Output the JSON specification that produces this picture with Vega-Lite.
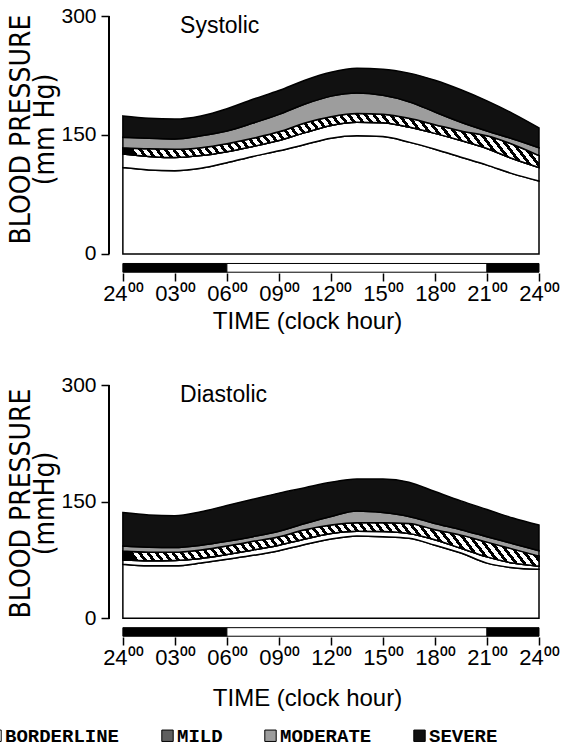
{
  "$schema": "https://vega.github.io/schema/vega-lite/v6.json",
  "background": "white",
  "padding": {"left": -14, "top": 5, "right": 0, "bottom": 0},
  "config": {
    "view": {"stroke": null},
    "font": "Liberation Sans",
    "axis": {"grid": false, "domain": false, "tickColor": "black", "labelColor": "black", "titleColor": "black", "titleFontWeight": "normal", "tickWidth": 1.5}
  },
  "datasets": {
    "systolic": [
      {"hour": 0, "normal": 109, "borderline": 126, "mild": 134, "moderate": 147, "severe": 174},
      {"hour": 1.5, "normal": 106, "borderline": 123, "mild": 132.5, "moderate": 146, "severe": 171},
      {"hour": 3, "normal": 105, "borderline": 121.5, "mild": 132, "moderate": 145, "severe": 170},
      {"hour": 4.5, "normal": 108, "borderline": 124, "mild": 134, "moderate": 149, "severe": 174},
      {"hour": 6, "normal": 115, "borderline": 129, "mild": 139, "moderate": 155, "severe": 183},
      {"hour": 7.5, "normal": 123, "borderline": 135.5, "mild": 146, "moderate": 165, "severe": 195},
      {"hour": 9, "normal": 130, "borderline": 143, "mild": 154, "moderate": 176, "severe": 206},
      {"hour": 10.5, "normal": 138, "borderline": 153, "mild": 165, "moderate": 189, "severe": 219},
      {"hour": 12, "normal": 146, "borderline": 162, "mild": 173, "moderate": 199, "severe": 229},
      {"hour": 13.5, "normal": 149, "borderline": 166, "mild": 177, "moderate": 203, "severe": 234},
      {"hour": 15, "normal": 148, "borderline": 165.5, "mild": 176, "moderate": 200, "severe": 233},
      {"hour": 16.5, "normal": 141, "borderline": 160, "mild": 171, "moderate": 192, "severe": 228},
      {"hour": 18, "normal": 132, "borderline": 152, "mild": 163, "moderate": 179, "severe": 219},
      {"hour": 19.5, "normal": 122, "borderline": 143, "mild": 155, "moderate": 166, "severe": 207},
      {"hour": 21, "normal": 112, "borderline": 133, "mild": 149, "moderate": 155, "severe": 193},
      {"hour": 22.5, "normal": 101, "borderline": 120, "mild": 138, "moderate": 145, "severe": 177},
      {"hour": 24, "normal": 92, "borderline": 109, "mild": 124, "moderate": 134, "severe": 159}
    ],
    "diastolic": [
      {"hour": 0, "normal": 69.5, "borderline": 75, "mild": 86.5, "moderate": 93, "severe": 136},
      {"hour": 1.5, "normal": 67.5, "borderline": 74, "mild": 85, "moderate": 91.5, "severe": 133},
      {"hour": 3, "normal": 67.5, "borderline": 74.5, "mild": 85, "moderate": 91, "severe": 132},
      {"hour": 4.5, "normal": 71, "borderline": 77, "mild": 88, "moderate": 94, "severe": 137},
      {"hour": 6, "normal": 76, "borderline": 82, "mild": 93, "moderate": 99, "severe": 145},
      {"hour": 7.5, "normal": 81, "borderline": 88, "mild": 99, "moderate": 105, "severe": 153},
      {"hour": 9, "normal": 87, "borderline": 94, "mild": 105, "moderate": 112, "severe": 161},
      {"hour": 10.5, "normal": 95, "borderline": 102, "mild": 114, "moderate": 122, "severe": 168},
      {"hour": 12, "normal": 102, "borderline": 109, "mild": 120, "moderate": 131, "severe": 175},
      {"hour": 13.5, "normal": 106, "borderline": 112, "mild": 123, "moderate": 138, "severe": 179},
      {"hour": 15, "normal": 105, "borderline": 111.5, "mild": 123, "moderate": 136, "severe": 179},
      {"hour": 16.5, "normal": 103, "borderline": 109, "mild": 122, "moderate": 131, "severe": 175},
      {"hour": 18, "normal": 94, "borderline": 101, "mild": 114, "moderate": 122, "severe": 163},
      {"hour": 19.5, "normal": 84, "borderline": 90, "mild": 107, "moderate": 114, "severe": 151},
      {"hour": 21, "normal": 71, "borderline": 79, "mild": 98, "moderate": 105, "severe": 140},
      {"hour": 22.5, "normal": 65, "borderline": 71, "mild": 89, "moderate": 96, "severe": 129},
      {"hour": 24, "normal": 63, "borderline": 67, "mild": 80, "moderate": 87, "severe": 120}
    ],
    "periods": [
      {"start": 0, "end": 6, "period": "night"},
      {"start": 6, "end": 21, "period": "day"},
      {"start": 21, "end": 24, "period": "night"}
    ]
  },
  "spacing": 41,
  "resolve": {"scale": {"color": "shared"}},
  "vconcat": [
    {
      "width": 430,
      "height": 257,
      "data": {"name": "systolic"},
      "encoding": {
        "x": {"field": "hour", "type": "quantitative", "scale": {"domain": [-0.8, 24], "nice": false, "zero": false},
          "axis": {"values": [0, 3, 6, 9, 12, 15, 18, 21, 24], "labelExpr": "(datum.value == 0 || datum.value == 24 ? '24' : (datum.value < 10 ? '0' + datum.value : '' + datum.value)) + '⁰⁰'", "labelFlush": false, "labelOverlap": false, "tickSize": 8, "labelFontSize": 22, "labelPadding": 2, "title": "TIME (clock hour)", "titleFontSize": 24, "titlePadding": 5, "titleX": 198}}
      },
      "layer": [
        {
          "mark": {"type": "area", "interpolate": "monotone", "fill": "white", "stroke": "black", "strokeWidth": 1.5},
          "encoding": {
            "y": {"field": "normal", "type": "quantitative", "scale": {"domain": [-24, 300], "nice": false, "zero": false},
              "axis": {"values": [0, 150, 300], "tickSize": 8, "labelFontSize": 21, "labelPadding": 5, "title": ["BLOOD PRESSURE", "(mm Hg)"], "titleFont": "'Liberation Sans Narrow', 'DejaVu Sans Condensed', 'Liberation Sans'", "titleFontSize": 28, "titleLineHeight": 24, "titlePadding": 1, "titleY": 113}},
            "y2": {"datum": 0}
          }
        },
        {
          "mark": {"type": "area", "interpolate": "monotone", "stroke": "black", "strokeWidth": 1.5, "opacity": 1},
          "encoding": {"y": {"field": "normal", "type": "quantitative"}, "y2": {"field": "borderline"},
            "color": {"datum": "BORDERLINE", "type": "nominal", "scale": {"domain": ["BORDERLINE", "MILD", "MODERATE", "SEVERE"], "range": ["#ffffff", "#5f5f5f", "#9d9d9d", "#111111"]},
              "legend": {"title": null, "orient": "none", "legendX": -123, "legendY": 710, "direction": "horizontal", "columns": 4, "symbolType": "square", "symbolSize": 130, "symbolStrokeColor": "black", "symbolStrokeWidth": 1, "symbolOpacity": 1, "labelFont": "Liberation Mono", "labelFontSize": 19, "labelFontWeight": "bold", "labelColor": "black", "labelOffset": 0, "columnPadding": 38}}}
        },
        {
          "mark": {"type": "area", "interpolate": "monotone", "stroke": "black", "strokeWidth": 1.5, "opacity": 1},
          "encoding": {"y": {"field": "borderline", "type": "quantitative"}, "y2": {"field": "mild"}, "color": {"datum": "MILD", "type": "nominal"}}
        },
        {
          "mark": {"type": "area", "interpolate": "monotone", "stroke": "black", "strokeWidth": 1.5, "opacity": 1,
            "fill": {"gradient": "linear", "x1": 0, "y1": 0.5, "x2": 1, "y2": 0.4, "stops": [
        {"offset":0,"color":"#000"},{"offset":0.009,"color":"#000"},{"offset":0.009,"color":"#fff"},{"offset":0.02,"color":"#fff"},
        {"offset":0.02,"color":"#000"},{"offset":0.029,"color":"#000"},{"offset":0.029,"color":"#fff"},{"offset":0.04,"color":"#fff"},
        {"offset":0.04,"color":"#000"},{"offset":0.049,"color":"#000"},{"offset":0.049,"color":"#fff"},{"offset":0.06,"color":"#fff"},
        {"offset":0.06,"color":"#000"},{"offset":0.069,"color":"#000"},{"offset":0.069,"color":"#fff"},{"offset":0.08,"color":"#fff"},
        {"offset":0.08,"color":"#000"},{"offset":0.089,"color":"#000"},{"offset":0.089,"color":"#fff"},{"offset":0.1,"color":"#fff"},
        {"offset":0.1,"color":"#000"},{"offset":0.109,"color":"#000"},{"offset":0.109,"color":"#fff"},{"offset":0.12,"color":"#fff"},
        {"offset":0.12,"color":"#000"},{"offset":0.129,"color":"#000"},{"offset":0.129,"color":"#fff"},{"offset":0.14,"color":"#fff"},
        {"offset":0.14,"color":"#000"},{"offset":0.149,"color":"#000"},{"offset":0.149,"color":"#fff"},{"offset":0.16,"color":"#fff"},
        {"offset":0.16,"color":"#000"},{"offset":0.169,"color":"#000"},{"offset":0.169,"color":"#fff"},{"offset":0.18,"color":"#fff"},
        {"offset":0.18,"color":"#000"},{"offset":0.189,"color":"#000"},{"offset":0.189,"color":"#fff"},{"offset":0.2,"color":"#fff"},
        {"offset":0.2,"color":"#000"},{"offset":0.209,"color":"#000"},{"offset":0.209,"color":"#fff"},{"offset":0.22,"color":"#fff"},
        {"offset":0.22,"color":"#000"},{"offset":0.229,"color":"#000"},{"offset":0.229,"color":"#fff"},{"offset":0.24,"color":"#fff"},
        {"offset":0.24,"color":"#000"},{"offset":0.249,"color":"#000"},{"offset":0.249,"color":"#fff"},{"offset":0.26,"color":"#fff"},
        {"offset":0.26,"color":"#000"},{"offset":0.269,"color":"#000"},{"offset":0.269,"color":"#fff"},{"offset":0.28,"color":"#fff"},
        {"offset":0.28,"color":"#000"},{"offset":0.289,"color":"#000"},{"offset":0.289,"color":"#fff"},{"offset":0.3,"color":"#fff"},
        {"offset":0.3,"color":"#000"},{"offset":0.309,"color":"#000"},{"offset":0.309,"color":"#fff"},{"offset":0.32,"color":"#fff"},
        {"offset":0.32,"color":"#000"},{"offset":0.329,"color":"#000"},{"offset":0.329,"color":"#fff"},{"offset":0.34,"color":"#fff"},
        {"offset":0.34,"color":"#000"},{"offset":0.349,"color":"#000"},{"offset":0.349,"color":"#fff"},{"offset":0.36,"color":"#fff"},
        {"offset":0.36,"color":"#000"},{"offset":0.369,"color":"#000"},{"offset":0.369,"color":"#fff"},{"offset":0.38,"color":"#fff"},
        {"offset":0.38,"color":"#000"},{"offset":0.389,"color":"#000"},{"offset":0.389,"color":"#fff"},{"offset":0.4,"color":"#fff"},
        {"offset":0.4,"color":"#000"},{"offset":0.409,"color":"#000"},{"offset":0.409,"color":"#fff"},{"offset":0.42,"color":"#fff"},
        {"offset":0.42,"color":"#000"},{"offset":0.429,"color":"#000"},{"offset":0.429,"color":"#fff"},{"offset":0.44,"color":"#fff"},
        {"offset":0.44,"color":"#000"},{"offset":0.449,"color":"#000"},{"offset":0.449,"color":"#fff"},{"offset":0.46,"color":"#fff"},
        {"offset":0.46,"color":"#000"},{"offset":0.469,"color":"#000"},{"offset":0.469,"color":"#fff"},{"offset":0.48,"color":"#fff"},
        {"offset":0.48,"color":"#000"},{"offset":0.489,"color":"#000"},{"offset":0.489,"color":"#fff"},{"offset":0.5,"color":"#fff"},
        {"offset":0.5,"color":"#000"},{"offset":0.509,"color":"#000"},{"offset":0.509,"color":"#fff"},{"offset":0.52,"color":"#fff"},
        {"offset":0.52,"color":"#000"},{"offset":0.529,"color":"#000"},{"offset":0.529,"color":"#fff"},{"offset":0.54,"color":"#fff"},
        {"offset":0.54,"color":"#000"},{"offset":0.549,"color":"#000"},{"offset":0.549,"color":"#fff"},{"offset":0.56,"color":"#fff"},
        {"offset":0.56,"color":"#000"},{"offset":0.569,"color":"#000"},{"offset":0.569,"color":"#fff"},{"offset":0.58,"color":"#fff"},
        {"offset":0.58,"color":"#000"},{"offset":0.589,"color":"#000"},{"offset":0.589,"color":"#fff"},{"offset":0.6,"color":"#fff"},
        {"offset":0.6,"color":"#000"},{"offset":0.609,"color":"#000"},{"offset":0.609,"color":"#fff"},{"offset":0.62,"color":"#fff"},
        {"offset":0.62,"color":"#000"},{"offset":0.629,"color":"#000"},{"offset":0.629,"color":"#fff"},{"offset":0.64,"color":"#fff"},
        {"offset":0.64,"color":"#000"},{"offset":0.649,"color":"#000"},{"offset":0.649,"color":"#fff"},{"offset":0.66,"color":"#fff"},
        {"offset":0.66,"color":"#000"},{"offset":0.669,"color":"#000"},{"offset":0.669,"color":"#fff"},{"offset":0.68,"color":"#fff"},
        {"offset":0.68,"color":"#000"},{"offset":0.689,"color":"#000"},{"offset":0.689,"color":"#fff"},{"offset":0.7,"color":"#fff"},
        {"offset":0.7,"color":"#000"},{"offset":0.709,"color":"#000"},{"offset":0.709,"color":"#fff"},{"offset":0.72,"color":"#fff"},
        {"offset":0.72,"color":"#000"},{"offset":0.729,"color":"#000"},{"offset":0.729,"color":"#fff"},{"offset":0.74,"color":"#fff"},
        {"offset":0.74,"color":"#000"},{"offset":0.749,"color":"#000"},{"offset":0.749,"color":"#fff"},{"offset":0.76,"color":"#fff"},
        {"offset":0.76,"color":"#000"},{"offset":0.769,"color":"#000"},{"offset":0.769,"color":"#fff"},{"offset":0.78,"color":"#fff"},
        {"offset":0.78,"color":"#000"},{"offset":0.789,"color":"#000"},{"offset":0.789,"color":"#fff"},{"offset":0.8,"color":"#fff"},
        {"offset":0.8,"color":"#000"},{"offset":0.809,"color":"#000"},{"offset":0.809,"color":"#fff"},{"offset":0.82,"color":"#fff"},
        {"offset":0.82,"color":"#000"},{"offset":0.829,"color":"#000"},{"offset":0.829,"color":"#fff"},{"offset":0.84,"color":"#fff"},
        {"offset":0.84,"color":"#000"},{"offset":0.849,"color":"#000"},{"offset":0.849,"color":"#fff"},{"offset":0.86,"color":"#fff"},
        {"offset":0.86,"color":"#000"},{"offset":0.869,"color":"#000"},{"offset":0.869,"color":"#fff"},{"offset":0.88,"color":"#fff"},
        {"offset":0.88,"color":"#000"},{"offset":0.889,"color":"#000"},{"offset":0.889,"color":"#fff"},{"offset":0.9,"color":"#fff"},
        {"offset":0.9,"color":"#000"},{"offset":0.909,"color":"#000"},{"offset":0.909,"color":"#fff"},{"offset":0.92,"color":"#fff"},
        {"offset":0.92,"color":"#000"},{"offset":0.929,"color":"#000"},{"offset":0.929,"color":"#fff"},{"offset":0.94,"color":"#fff"},
        {"offset":0.94,"color":"#000"},{"offset":0.949,"color":"#000"},{"offset":0.949,"color":"#fff"},{"offset":0.96,"color":"#fff"},
        {"offset":0.96,"color":"#000"},{"offset":0.969,"color":"#000"},{"offset":0.969,"color":"#fff"},{"offset":0.98,"color":"#fff"},
        {"offset":0.98,"color":"#000"},{"offset":0.989,"color":"#000"},{"offset":0.989,"color":"#fff"},{"offset":1,"color":"#fff"}
            ]}},
          "encoding": {"y": {"field": "borderline", "type": "quantitative"}, "y2": {"field": "mild"}}
        },
        {
          "mark": {"type": "area", "interpolate": "monotone", "stroke": "black", "strokeWidth": 1.5, "opacity": 1},
          "encoding": {"y": {"field": "mild", "type": "quantitative"}, "y2": {"field": "moderate"}, "color": {"datum": "MODERATE", "type": "nominal"}}
        },
        {
          "mark": {"type": "area", "interpolate": "monotone", "stroke": "black", "strokeWidth": 1.5, "opacity": 1},
          "encoding": {"y": {"field": "moderate", "type": "quantitative"}, "y2": {"field": "severe"}, "color": {"datum": "SEVERE", "type": "nominal"}}
        },
        {
          "mark": {"type": "rule", "color": "black", "strokeWidth": 1.5},
          "encoding": {"x": {"datum": -0.8}, "y": {"datum": 0}, "y2": {"datum": 300}}
        },
        {
          "data": {"name": "periods"},
          "mark": {"type": "rect", "stroke": "black", "strokeWidth": 1},
          "encoding": {"x": {"field": "start", "type": "quantitative"}, "x2": {"field": "end"}, "y": {"datum": -12}, "y2": {"datum": -23},
            "fill": {"field": "period", "type": "nominal", "scale": {"domain": ["night", "day"], "range": ["black", "white"]}, "legend": null}}
        },
        {
          "transform": [{"filter": "datum.hour == 0"}],
          "mark": {"type": "text", "align": "left", "baseline": "middle", "fontSize": 23, "fill": "black"},
          "encoding": {"x": {"datum": 3.3}, "y": {"datum": 287}, "text": {"value": "Systolic"}}
        }
      ]
    },
    {
      "width": 430,
      "height": 252,
      "data": {"name": "diastolic"},
      "encoding": {
        "x": {"field": "hour", "type": "quantitative", "scale": {"domain": [-0.8, 24], "nice": false, "zero": false},
          "axis": {"values": [0, 3, 6, 9, 12, 15, 18, 21, 24], "labelExpr": "(datum.value == 0 || datum.value == 24 ? '24' : (datum.value < 10 ? '0' + datum.value : '' + datum.value)) + '⁰⁰'", "labelFlush": false, "labelOverlap": false, "tickSize": 8, "labelFontSize": 22, "labelPadding": 2, "title": "TIME (clock hour)", "titleFontSize": 24, "titlePadding": 18, "titleX": 198}}
      },
      "layer": [
        {
          "mark": {"type": "area", "interpolate": "monotone", "fill": "white", "stroke": "black", "strokeWidth": 1.5},
          "encoding": {
            "y": {"field": "normal", "type": "quantitative", "scale": {"domain": [-24, 300], "nice": false, "zero": false},
              "axis": {"values": [0, 150, 300], "tickSize": 8, "labelFontSize": 21, "labelPadding": 5, "title": ["BLOOD PRESSURE", "(mmHg)"], "titleFont": "'Liberation Sans Narrow', 'DejaVu Sans Condensed', 'Liberation Sans'", "titleFontSize": 28, "titleLineHeight": 24, "titlePadding": 1, "titleY": 118}},
            "y2": {"datum": 0}
          }
        },
        {
          "mark": {"type": "area", "interpolate": "monotone", "stroke": "black", "strokeWidth": 1.5, "opacity": 1},
          "encoding": {"y": {"field": "normal", "type": "quantitative"}, "y2": {"field": "borderline"}, "color": {"datum": "BORDERLINE", "type": "nominal"}}
        },
        {
          "mark": {"type": "area", "interpolate": "monotone", "stroke": "black", "strokeWidth": 1.5, "opacity": 1},
          "encoding": {"y": {"field": "borderline", "type": "quantitative"}, "y2": {"field": "mild"}, "color": {"datum": "MILD", "type": "nominal"}}
        },
        {
          "mark": {"type": "area", "interpolate": "monotone", "stroke": "black", "strokeWidth": 1.5, "opacity": 1,
            "fill": {"gradient": "linear", "x1": 0, "y1": 0.5, "x2": 1, "y2": 0.42, "stops": [
        {"offset":0,"color":"#000"},{"offset":0.009,"color":"#000"},{"offset":0.009,"color":"#fff"},{"offset":0.02,"color":"#fff"},
        {"offset":0.02,"color":"#000"},{"offset":0.029,"color":"#000"},{"offset":0.029,"color":"#fff"},{"offset":0.04,"color":"#fff"},
        {"offset":0.04,"color":"#000"},{"offset":0.049,"color":"#000"},{"offset":0.049,"color":"#fff"},{"offset":0.06,"color":"#fff"},
        {"offset":0.06,"color":"#000"},{"offset":0.069,"color":"#000"},{"offset":0.069,"color":"#fff"},{"offset":0.08,"color":"#fff"},
        {"offset":0.08,"color":"#000"},{"offset":0.089,"color":"#000"},{"offset":0.089,"color":"#fff"},{"offset":0.1,"color":"#fff"},
        {"offset":0.1,"color":"#000"},{"offset":0.109,"color":"#000"},{"offset":0.109,"color":"#fff"},{"offset":0.12,"color":"#fff"},
        {"offset":0.12,"color":"#000"},{"offset":0.129,"color":"#000"},{"offset":0.129,"color":"#fff"},{"offset":0.14,"color":"#fff"},
        {"offset":0.14,"color":"#000"},{"offset":0.149,"color":"#000"},{"offset":0.149,"color":"#fff"},{"offset":0.16,"color":"#fff"},
        {"offset":0.16,"color":"#000"},{"offset":0.169,"color":"#000"},{"offset":0.169,"color":"#fff"},{"offset":0.18,"color":"#fff"},
        {"offset":0.18,"color":"#000"},{"offset":0.189,"color":"#000"},{"offset":0.189,"color":"#fff"},{"offset":0.2,"color":"#fff"},
        {"offset":0.2,"color":"#000"},{"offset":0.209,"color":"#000"},{"offset":0.209,"color":"#fff"},{"offset":0.22,"color":"#fff"},
        {"offset":0.22,"color":"#000"},{"offset":0.229,"color":"#000"},{"offset":0.229,"color":"#fff"},{"offset":0.24,"color":"#fff"},
        {"offset":0.24,"color":"#000"},{"offset":0.249,"color":"#000"},{"offset":0.249,"color":"#fff"},{"offset":0.26,"color":"#fff"},
        {"offset":0.26,"color":"#000"},{"offset":0.269,"color":"#000"},{"offset":0.269,"color":"#fff"},{"offset":0.28,"color":"#fff"},
        {"offset":0.28,"color":"#000"},{"offset":0.289,"color":"#000"},{"offset":0.289,"color":"#fff"},{"offset":0.3,"color":"#fff"},
        {"offset":0.3,"color":"#000"},{"offset":0.309,"color":"#000"},{"offset":0.309,"color":"#fff"},{"offset":0.32,"color":"#fff"},
        {"offset":0.32,"color":"#000"},{"offset":0.329,"color":"#000"},{"offset":0.329,"color":"#fff"},{"offset":0.34,"color":"#fff"},
        {"offset":0.34,"color":"#000"},{"offset":0.349,"color":"#000"},{"offset":0.349,"color":"#fff"},{"offset":0.36,"color":"#fff"},
        {"offset":0.36,"color":"#000"},{"offset":0.369,"color":"#000"},{"offset":0.369,"color":"#fff"},{"offset":0.38,"color":"#fff"},
        {"offset":0.38,"color":"#000"},{"offset":0.389,"color":"#000"},{"offset":0.389,"color":"#fff"},{"offset":0.4,"color":"#fff"},
        {"offset":0.4,"color":"#000"},{"offset":0.409,"color":"#000"},{"offset":0.409,"color":"#fff"},{"offset":0.42,"color":"#fff"},
        {"offset":0.42,"color":"#000"},{"offset":0.429,"color":"#000"},{"offset":0.429,"color":"#fff"},{"offset":0.44,"color":"#fff"},
        {"offset":0.44,"color":"#000"},{"offset":0.449,"color":"#000"},{"offset":0.449,"color":"#fff"},{"offset":0.46,"color":"#fff"},
        {"offset":0.46,"color":"#000"},{"offset":0.469,"color":"#000"},{"offset":0.469,"color":"#fff"},{"offset":0.48,"color":"#fff"},
        {"offset":0.48,"color":"#000"},{"offset":0.489,"color":"#000"},{"offset":0.489,"color":"#fff"},{"offset":0.5,"color":"#fff"},
        {"offset":0.5,"color":"#000"},{"offset":0.509,"color":"#000"},{"offset":0.509,"color":"#fff"},{"offset":0.52,"color":"#fff"},
        {"offset":0.52,"color":"#000"},{"offset":0.529,"color":"#000"},{"offset":0.529,"color":"#fff"},{"offset":0.54,"color":"#fff"},
        {"offset":0.54,"color":"#000"},{"offset":0.549,"color":"#000"},{"offset":0.549,"color":"#fff"},{"offset":0.56,"color":"#fff"},
        {"offset":0.56,"color":"#000"},{"offset":0.569,"color":"#000"},{"offset":0.569,"color":"#fff"},{"offset":0.58,"color":"#fff"},
        {"offset":0.58,"color":"#000"},{"offset":0.589,"color":"#000"},{"offset":0.589,"color":"#fff"},{"offset":0.6,"color":"#fff"},
        {"offset":0.6,"color":"#000"},{"offset":0.609,"color":"#000"},{"offset":0.609,"color":"#fff"},{"offset":0.62,"color":"#fff"},
        {"offset":0.62,"color":"#000"},{"offset":0.629,"color":"#000"},{"offset":0.629,"color":"#fff"},{"offset":0.64,"color":"#fff"},
        {"offset":0.64,"color":"#000"},{"offset":0.649,"color":"#000"},{"offset":0.649,"color":"#fff"},{"offset":0.66,"color":"#fff"},
        {"offset":0.66,"color":"#000"},{"offset":0.669,"color":"#000"},{"offset":0.669,"color":"#fff"},{"offset":0.68,"color":"#fff"},
        {"offset":0.68,"color":"#000"},{"offset":0.689,"color":"#000"},{"offset":0.689,"color":"#fff"},{"offset":0.7,"color":"#fff"},
        {"offset":0.7,"color":"#000"},{"offset":0.709,"color":"#000"},{"offset":0.709,"color":"#fff"},{"offset":0.72,"color":"#fff"},
        {"offset":0.72,"color":"#000"},{"offset":0.729,"color":"#000"},{"offset":0.729,"color":"#fff"},{"offset":0.74,"color":"#fff"},
        {"offset":0.74,"color":"#000"},{"offset":0.749,"color":"#000"},{"offset":0.749,"color":"#fff"},{"offset":0.76,"color":"#fff"},
        {"offset":0.76,"color":"#000"},{"offset":0.769,"color":"#000"},{"offset":0.769,"color":"#fff"},{"offset":0.78,"color":"#fff"},
        {"offset":0.78,"color":"#000"},{"offset":0.789,"color":"#000"},{"offset":0.789,"color":"#fff"},{"offset":0.8,"color":"#fff"},
        {"offset":0.8,"color":"#000"},{"offset":0.809,"color":"#000"},{"offset":0.809,"color":"#fff"},{"offset":0.82,"color":"#fff"},
        {"offset":0.82,"color":"#000"},{"offset":0.829,"color":"#000"},{"offset":0.829,"color":"#fff"},{"offset":0.84,"color":"#fff"},
        {"offset":0.84,"color":"#000"},{"offset":0.849,"color":"#000"},{"offset":0.849,"color":"#fff"},{"offset":0.86,"color":"#fff"},
        {"offset":0.86,"color":"#000"},{"offset":0.869,"color":"#000"},{"offset":0.869,"color":"#fff"},{"offset":0.88,"color":"#fff"},
        {"offset":0.88,"color":"#000"},{"offset":0.889,"color":"#000"},{"offset":0.889,"color":"#fff"},{"offset":0.9,"color":"#fff"},
        {"offset":0.9,"color":"#000"},{"offset":0.909,"color":"#000"},{"offset":0.909,"color":"#fff"},{"offset":0.92,"color":"#fff"},
        {"offset":0.92,"color":"#000"},{"offset":0.929,"color":"#000"},{"offset":0.929,"color":"#fff"},{"offset":0.94,"color":"#fff"},
        {"offset":0.94,"color":"#000"},{"offset":0.949,"color":"#000"},{"offset":0.949,"color":"#fff"},{"offset":0.96,"color":"#fff"},
        {"offset":0.96,"color":"#000"},{"offset":0.969,"color":"#000"},{"offset":0.969,"color":"#fff"},{"offset":0.98,"color":"#fff"},
        {"offset":0.98,"color":"#000"},{"offset":0.989,"color":"#000"},{"offset":0.989,"color":"#fff"},{"offset":1,"color":"#fff"}
            ]}},
          "encoding": {"y": {"field": "borderline", "type": "quantitative"}, "y2": {"field": "mild"}}
        },
        {
          "mark": {"type": "area", "interpolate": "monotone", "stroke": "black", "strokeWidth": 1.5, "opacity": 1},
          "encoding": {"y": {"field": "mild", "type": "quantitative"}, "y2": {"field": "moderate"}, "color": {"datum": "MODERATE", "type": "nominal"}}
        },
        {
          "mark": {"type": "area", "interpolate": "monotone", "stroke": "black", "strokeWidth": 1.5, "opacity": 1},
          "encoding": {"y": {"field": "moderate", "type": "quantitative"}, "y2": {"field": "severe"}, "color": {"datum": "SEVERE", "type": "nominal"}}
        },
        {
          "mark": {"type": "rule", "color": "black", "strokeWidth": 1.5},
          "encoding": {"x": {"datum": -0.8}, "y": {"datum": 0}, "y2": {"datum": 300}}
        },
        {
          "data": {"name": "periods"},
          "mark": {"type": "rect", "stroke": "black", "strokeWidth": 1},
          "encoding": {"x": {"field": "start", "type": "quantitative"}, "x2": {"field": "end"}, "y": {"datum": -12}, "y2": {"datum": -23},
            "fill": {"field": "period", "type": "nominal", "scale": {"domain": ["night", "day"], "range": ["black", "white"]}, "legend": null}}
        },
        {
          "transform": [{"filter": "datum.hour == 0"}],
          "mark": {"type": "text", "align": "left", "baseline": "middle", "fontSize": 23, "fill": "black"},
          "encoding": {"x": {"datum": 3.3}, "y": {"datum": 287}, "text": {"value": "Diastolic"}}
        }
      ]
    }
  ]
}
